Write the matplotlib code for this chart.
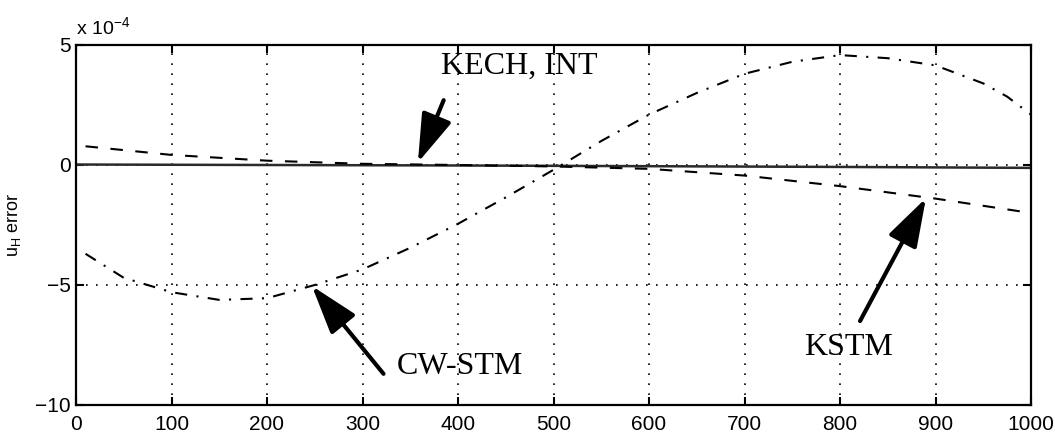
import matplotlib
matplotlib.use("Agg")
import matplotlib.pyplot as plt

# ---- data (units of 1e-4) ----
x_cw = [10, 50, 100, 150, 200, 250, 300, 350, 400, 450, 500, 550, 600, 650,
        700, 750, 800, 850, 900, 950, 975, 1000]
y_cw = [-3.7, -4.7, -5.3, -5.62, -5.55, -5.0, -4.35, -3.45, -2.45, -1.35, -0.2,
        1.0, 2.1, 3.0, 3.8, 4.3, 4.58, 4.45, 4.15, 3.4, 2.85, 2.1]

x_kstm = [10, 100, 200, 300, 400, 500, 600, 700, 800, 900, 1000]
y_kstm = [0.78, 0.42, 0.18, 0.05, 0.0, -0.06, -0.16, -0.44, -0.88, -1.4, -2.0]

x_kech = [0, 200, 400, 600, 800, 1000]
y_kech = [0.02, 0.0, -0.02, -0.05, -0.08, -0.12]

xticks = [0, 100, 200, 300, 400, 500, 600, 700, 800, 900, 1000]
yticks = [-10, -5, 0, 5]
ytick_labels = ["\u221210", "\u22125", "0", "5"]

plt.rcParams['font.family'] = ['Liberation Sans', 'DejaVu Sans']
plt.rcParams['mathtext.default'] = 'regular'

fig = plt.figure(figsize=(10.55, 4.43), dpi=100)
ax = fig.add_axes([76/1055, 38/443, (1031-76)/1055, 360/443])

ax.plot(x_kech, y_kech, color='#2a2a2a', lw=1.8, solid_capstyle='butt')
ax.plot(x_kstm, y_kstm, color='black', lw=1.5, dashes=(6, 6))
ax.plot(x_cw, y_cw, color='black', lw=1.5, dashes=(5.8, 4.5, 1, 4.5))

ax.set_xlim(0, 1000)
ax.set_ylim(-10, 5)
ax.set_xticks(xticks)
ax.set_yticks(yticks)
ax.set_yticklabels(ytick_labels)
ax.grid(True, color='black', linestyle=(0, (1, 5)), lw=1.2)
ax.tick_params(direction='in', top=True, right=True, length=6, width=1.5,
               labelsize=15)
ax.tick_params(axis='x', pad=7)
ax.tick_params(axis='y', pad=4)
for s in ax.spines.values():
    s.set_linewidth(1.6)

ax.text(0.0, 1.02, r'x 10$^{-4}$', transform=ax.transAxes, fontsize=14,
        ha='left', va='bottom')
ax.set_ylabel(r'u$_H$ error', fontsize=13)
ax.yaxis.set_label_coords(-0.055, 0.5)

serif = ['Liberation Serif', 'DejaVu Serif']
arrow = dict(arrowstyle='-|>,head_length=1.5,head_width=0.48', color='black',
             lw=3, mutation_scale=20, shrinkA=0, shrinkB=0)
ax.text(464, 4.1, 'KECH, INT', family=serif, fontsize=23, ha='center', va='center')
ax.annotate('', xy=(358, 0.1), xytext=(385, 2.7), arrowprops=arrow)
ax.text(402, -8.4, 'CW-STM', family=serif, fontsize=23, ha='center', va='center')
ax.annotate('', xy=(247, -5.04), xytext=(322, -8.7), arrowprops=arrow)
ax.text(809, -7.6, 'KSTM', family=serif, fontsize=23, ha='center', va='center')
ax.annotate('', xy=(890, -1.38), xytext=(821, -6.5), arrowprops=arrow)

fig.savefig('out.png', dpi=100)
